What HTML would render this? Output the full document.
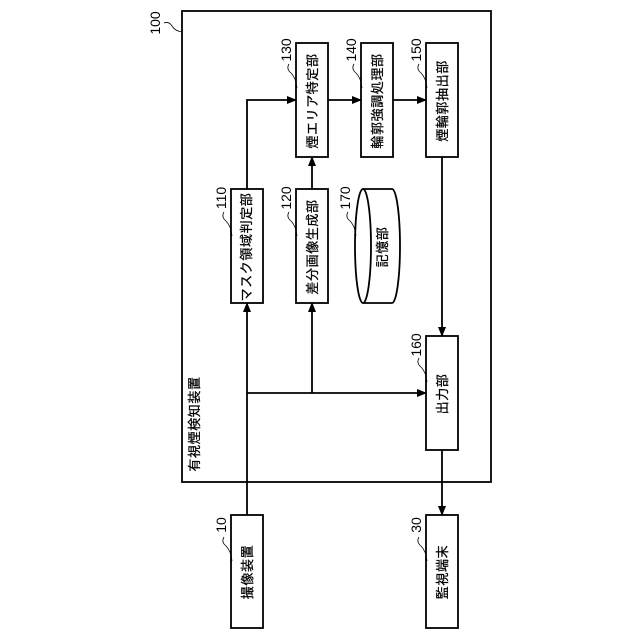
<!DOCTYPE html>
<html><head><meta charset="utf-8"><style>
html,body{margin:0;padding:0;background:#fff;}
svg{display:block;}
text{font-family:"Liberation Sans","Noto Sans CJK JP",sans-serif;fill:#000;}
</style></head><body>
<svg width="640" height="640" viewBox="0 0 640 640" xmlns="http://www.w3.org/2000/svg">
<defs><marker id="a" markerWidth="10" markerHeight="10" refX="9" refY="5" orient="auto" markerUnits="userSpaceOnUse"><path d="M0,1 L10,5 L0,9 Z" fill="#000"/></marker></defs>
<g fill="none" stroke="#000" stroke-width="1.8">
<rect x="182" y="11" width="309" height="471"/>
<rect x="231" y="189" width="32" height="114"/>
<rect x="296" y="189" width="32" height="114"/>
<rect x="296" y="43" width="32" height="114"/>
<rect x="361" y="43" width="32" height="114"/>
<rect x="426" y="43" width="32" height="114"/>
<rect x="426" y="336" width="32" height="114"/>
<rect x="231" y="515" width="32" height="113"/>
<rect x="426" y="515" width="32" height="113"/>
<ellipse cx="363" cy="246" rx="8" ry="57"/>
<path d="M363,189 L392,189 A8,57 0 0 1 392,303 L363,303"/>
<path d="M247,515 L247,303" marker-end="url(#a)"/>
<path d="M247,393 L426,393" marker-end="url(#a)"/>
<path d="M312,393 L312,303" marker-end="url(#a)"/>
<path d="M247,189 L247,100 L296,100" marker-end="url(#a)"/>
<path d="M312,189 L312,157" marker-end="url(#a)"/>
<path d="M328,100 L361,100" marker-end="url(#a)"/>
<path d="M393,100 L426,100" marker-end="url(#a)"/>
<path d="M442,157 L442,336" marker-end="url(#a)"/>
<path d="M442,450 L442,515" marker-end="url(#a)"/>
</g>
<g fill="none" stroke="#000" stroke-width="0.8">
<path d="M164,23 q5,-2 8,3 q3,5 10,6"/>
<path d="M224,212 q-3,5 2,9 q5,5 6,15"/>
<path d="M289,64 q-3,5 2,9 q5,5 6,15"/>
<path d="M289,212 q-3,5 2,9 q5,5 6,15"/>
<path d="M354,64 q-3,5 2,9 q5,5 6,15"/>
<path d="M419,64 q-3,5 2,9 q5,5 6,15"/>
<path d="M348,212 q-3,5 2,9 q5,5 6,15"/>
<path d="M419,358 q-3,5 2,9 q5,5 6,15"/>
<path d="M224,537 q-3,5 2,9 q5,5 6,15"/>
<path d="M419,537 q-3,5 2,9 q5,5 6,15"/>
</g>
<g font-size="13" text-anchor="middle" letter-spacing="0.6" stroke="#000" stroke-width="0.25">
<text transform="translate(251,247) rotate(-90)">マスク領域判定部</text>
<text transform="translate(317,247) rotate(-90)">差分画像生成部</text>
<text transform="translate(317,101) rotate(-90)">煙エリア特定部</text>
<text transform="translate(382,101) rotate(-90)">輪郭強調処理部</text>
<text transform="translate(447,101) rotate(-90)">煙輪郭抽出部</text>
<text transform="translate(447,394) rotate(-90)">出力部</text>
<text transform="translate(252,572) rotate(-90)">撮像装置</text>
<text transform="translate(447,572) rotate(-90)">監視端末</text>
<text transform="translate(387,247) rotate(-90)">記憶部</text>
<text transform="translate(199,424) rotate(-90)">有視煙検知装置</text>
</g>
<g font-size="14" text-anchor="middle">
<text transform="translate(160,23) rotate(-90)">100</text>
<text transform="translate(226,198) rotate(-90)">110</text>
<text transform="translate(291,198) rotate(-90)">120</text>
<text transform="translate(291,50) rotate(-90)">130</text>
<text transform="translate(356,50) rotate(-90)">140</text>
<text transform="translate(421,50) rotate(-90)">150</text>
<text transform="translate(350,198) rotate(-90)">170</text>
<text transform="translate(421,345) rotate(-90)">160</text>
<text transform="translate(226,525) rotate(-90)">10</text>
<text transform="translate(421,525) rotate(-90)">30</text>
</g>
</svg>
</body></html>
